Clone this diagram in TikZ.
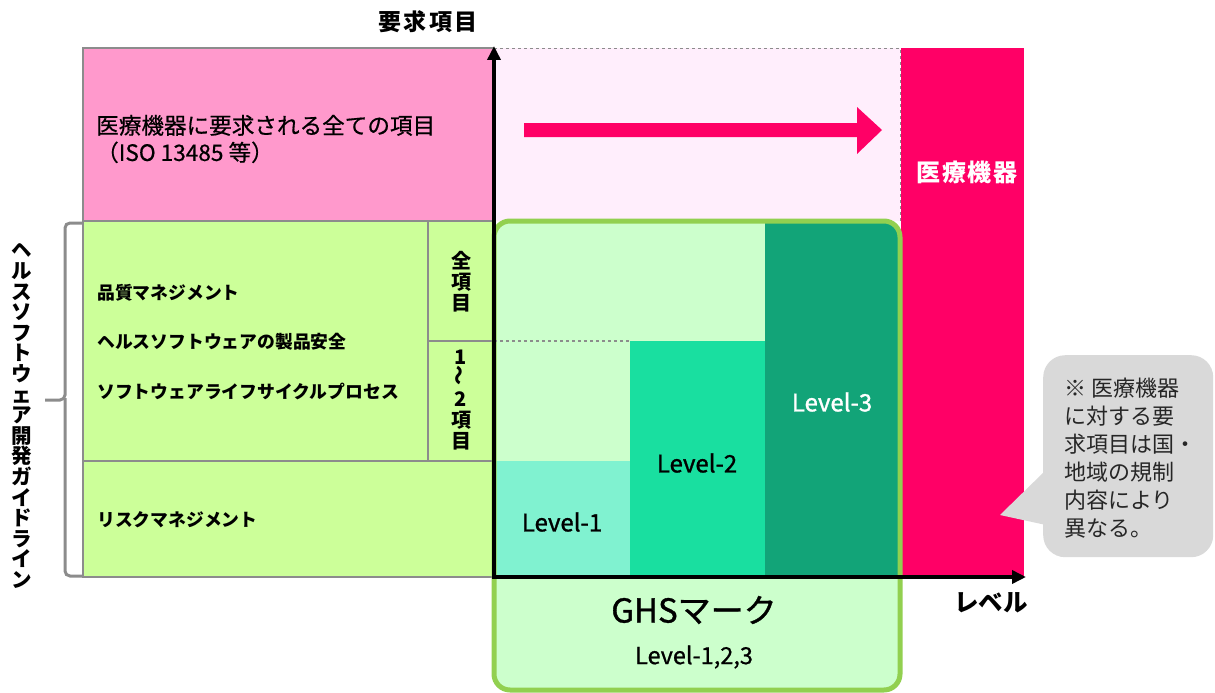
\documentclass[tikz,border=0pt]{standalone}
\usepackage{fontspec}
\setmainfont{Noto Sans CJK JP}
\usepackage{xcolor}
\usepackage{graphicx}
\usetikzlibrary{arrows.meta,positioning,calc}

\definecolor{pinkbox}{HTML}{FF99CC}
\definecolor{palepink}{HTML}{FFEEFC}
\definecolor{devicered}{HTML}{FF0066}
\definecolor{limebox}{HTML}{CCFF99}
\definecolor{ghsfill}{HTML}{CCFFCC}
\definecolor{ghsborder}{HTML}{92D050}
\definecolor{lvone}{HTML}{80F2D0}
\definecolor{lvtwo}{HTML}{19DFA0}
\definecolor{lvthree}{HTML}{12A478}
\definecolor{notegray}{HTML}{D9D9D9}
\definecolor{linegray}{HTML}{8C8C8C}

\begin{document}
\begin{tikzpicture}[x=1pt,y=-1pt,
    gridline/.style={draw=linegray, line width=1.2pt},
    itemtext/.style={anchor=west, inner sep=0pt, font=\fontsize{17.8}{20}\selectfont\bfseries},
    stacktext/.style={align=center, inner sep=0pt, font=\fontsize{20}{21}\selectfont\bfseries},
    leveltext/.style={inner sep=0pt, font=\fontsize{24}{26}\selectfont\addfontfeature{FakeBold=1.2}},
    axis/.style={line width=3.5pt, -{Triangle[length=14pt,width=13pt]}}]
    \useasboundingbox (0,0) rectangle (1215,693);

    % Requirement rows
    \fill[pinkbox] (83,48) rectangle (494,221);
    \fill[limebox] (83,221) rectangle (494,577);
    \draw[gridline] (494,48) -- (83,48) -- (83,577) -- (494,577);
    \draw[gridline] (83,221) -- (494,221);
    \draw[gridline] (83,461) -- (494,461);
    \draw[gridline] (428,221) -- (428,461);
    \draw[gridline] (428,341) -- (494,341);

    \node[anchor=west, inner sep=0pt, align=left, font=\fontsize{22.6}{27}\selectfont\addfontfeature{FakeBold=0.6}] (allitems) at (96,139)
        {医療機器に要求される全ての項目\\（ISO 13485 等）};
    \node[itemtext] (quality) at (97,293) {品質マネジメント};
    \node[itemtext] (safety) at (97,342) {ヘルスソフトウェアの製品安全};
    \node[itemtext] (lifecycle) at (97,391) {ソフトウェアライフサイクルプロセス};
    \node[itemtext] (risk) at (97,520) {リスクマネジメント};
    \node[stacktext] (allcol) at (461,282) {全\\項\\目};
    \node[stacktext] (partcol) at (461,400) {1\\\rotatebox{90}{～}\\2\\項\\目};

    % Guideline bracket
    \draw[linegray, line width=3pt, rounded corners=5pt] (83,223) -| (65,400) -- (45,400);
    \draw[linegray, line width=3pt, rounded corners=5pt] (65,398) |- (83,576);
    \node[stacktext, font=\fontsize{20.5}{20.6}\selectfont\bfseries] (guide) at (22,416)
        {ヘ\\ル\\ス\\ソ\\フ\\ト\\ウ\\ェ\\ア\\開\\発\\ガ\\イ\\ド\\ラ\\イ\\ン};

    % Medical device area
    \fill[palepink] (494,48) rectangle (900,221);
    \draw[linegray, dashed, line width=0.8pt] (494,48) -- (900,48) -- (900,221);
    \fill[devicered] (901,48) rectangle (1024,577);
    \node[text=white, font=\fontsize{24}{26}\selectfont\bfseries\addfontfeature{LetterSpace=8}] (device) at (967,172) {医療機器};
    \fill[devicered] (524,123) -- (857,123) -- (857,107) -- (882,130) -- (857,154) -- (857,137) -- (524,137) -- cycle;

    % GHS levels
    \begin{scope}
        \clip[rounded corners=16pt] (494,221) rectangle (900,690);
        \fill[ghsfill] (494,221) rectangle (900,690);
        \fill[lvthree] (765,221) rectangle (900,577);
        \fill[lvtwo] (630,341) rectangle (765,577);
        \fill[lvone] (494,461) rectangle (630,577);
    \end{scope}
    \draw[ghsborder, line width=5pt, rounded corners=16pt] (494,221) rectangle (900,690);
    \draw[linegray, dashed, line width=1.2pt] (494,341) -- (630,341);
    \node[leveltext] (lvl1) at (562,522) {Level-1};
    \node[leveltext] (lvl2) at (697,463) {Level-2};
    \node[leveltext, text=white] (lvl3) at (832,402) {Level-3};
    \node[inner sep=0pt, font=\fontsize{33}{35}\selectfont\addfontfeature{FakeBold=1}] (ghs) at (694,610) {GHSマーク};
    \node[leveltext, font=\fontsize{23.5}{25}\selectfont\addfontfeature{FakeBold=0.8}] (ghslvl) at (694,657) {Level-1,2,3};

    % Axes
    \coordinate (origin) at (494,577);
    \coordinate (ytop) at (494,46);
    \coordinate (xend) at (1026,577);
    \draw[axis] (origin) -- (ytop);
    \draw[axis] ([xshift=-1.75pt]origin) -- (xend);
    \node[font=\fontsize{23}{25}\selectfont\bfseries\addfontfeature{LetterSpace=10}] (yname) at (428,22) {要求項目};
    \node[font=\fontsize{24.5}{26}\selectfont\bfseries] (xname) at (991,603) {レベル};

    % Note
    \fill[notegray] (1000,515) -- (1046,470) -- (1046,525) -- cycle;
    \node[fill=notegray, rounded corners=22pt, minimum width=170pt, minimum height=202pt, anchor=north west] (note) at (1043,355) {};
    \node[anchor=west, inner sep=0pt, align=left, font=\fontsize{22}{28}\selectfont, text=black!85] (notetext) at (1064,458)
        {※ 医療機器\\に対する要\\求項目は国・\\地域の規制\\内容により\\異なる。};
\end{tikzpicture}
\end{document}
